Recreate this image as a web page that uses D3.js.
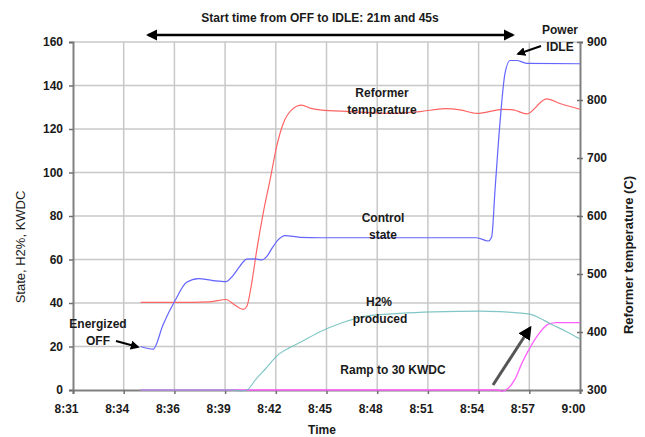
<!DOCTYPE html>
<html><head><meta charset="utf-8">
<script src="https://cdn.jsdelivr.net/npm/d3@7"></script>
<style>
body{margin:0;background:#fff;}
text{font-family:"Liberation Sans",Arial,sans-serif;}
</style></head>
<body><svg id="c" width="645" height="437"></svg>
<script>
// Tick labels (category axis, evenly spaced)
const timeLabels = ["8:31","8:34","8:36","8:39","8:42","8:45","8:48","8:51","8:54","8:57","9:00"];
const leftTicks = [0,20,40,60,80,100,120,140,160];
const rightTicks = [300,400,500,600,700,800,900];
// series: [minutes after 8:31, value]
const controlState = [[3.87,20],[4.59,18.8],[5.15,30],[5.83,41],[6.5,49.5],[7.17,51.2],[8.01,50.3],[8.75,49.8],[9.15,52.6],[9.55,57],[9.94,60.2],[10.41,60.3],[10.79,59.8],[11.08,61.3],[11.37,65],[11.73,69],[12.13,71],[12.98,70.2],[14.13,70],[17,70],[20,70],[23.09,70],[23.75,68.5],[23.95,70.5],[24.14,92],[24.42,122.6],[24.71,145.6],[25.0,151.5],[25.38,151.5],[25.95,150.2],[29,150]];
const reformerTemp = [[3.87,451],[5.83,451],[7.84,452],[8.75,456],[9.27,446],[9.74,439],[9.94,444],[10.22,484],[10.51,541],[10.88,605],[11.27,662],[11.65,720],[12.03,760],[12.51,783],[13.08,791],[13.56,786],[14.13,783],[15.84,780],[18.13,777],[19.85,780],[21.28,785],[22.14,783],[23.09,777],[24.61,784],[25.19,783],[25.95,776],[27.09,802],[27.85,794],[29,784]];
const h2Produced = [[3.87,0],[9.0,0],[9.6,-0.4],[9.94,0],[10.47,5],[11.04,10],[11.65,15.6],[12.41,19.5],[12.98,21.8],[14.13,26.8],[15.27,30.6],[16.8,34],[18.7,35.2],[20.61,35.9],[23.28,36.3],[24.42,36],[26.14,34.9],[26.71,33],[27.28,30.6],[28.24,26.8],[29,23.5]];
const kwdc = [[3.87,0],[24.31,0],[24.52,-0.6],[24.9,0.8],[25.28,5],[25.66,12],[26.14,19.5],[26.71,26.5],[27.19,30.3],[27.67,31],[29,31]];

const svg = d3.select("#c");
const L=73, R=580, T=42, B=390;
const x = d3.scaleLinear().domain([0,29]).range([L,R]);
const yL = d3.scaleLinear().domain([0,160]).range([B,T]);
const yR = d3.scaleLinear().domain([300,900]).range([B,T]);
const tickPos = timeLabels.map((d,i)=>i*2.9);

const defs = svg.append("defs");
defs.append("marker").attr("id","ah").attr("viewBox","0 0 10 10").attr("refX",8).attr("refY",5)
  .attr("markerWidth",4.5).attr("markerHeight",4.5).attr("orient","auto-start-reverse")
  .append("path").attr("d","M0,0L10,5L0,10z").attr("fill","#000");

// gridlines
const g = svg.append("g");
g.selectAll(".hg").data(leftTicks.slice(1)).join("line")
  .attr("x1",L).attr("x2",R).attr("y1",d=>yL(d)).attr("y2",d=>yL(d))
  .attr("stroke","#c8c8c8").attr("stroke-width",1.5);
g.selectAll(".vg").data(tickPos.slice(1,-1)).join("line")
  .attr("x1",d=>x(d)).attr("x2",d=>x(d)).attr("y1",T).attr("y2",B)
  .attr("stroke","#c8c8c8").attr("stroke-width",1.5);

// axes
const axL = svg.append("g").attr("transform",`translate(${L},0)`)
  .call(d3.axisLeft(yL).tickValues(leftTicks).tickSize(4).tickPadding(6));
const axR = svg.append("g").attr("transform",`translate(${R},0)`)
  .call(d3.axisRight(yR).tickValues(rightTicks).tickSize(3).tickPadding(4));
axR.selectAll(".tick line").attr("x1",-3);
const axB = svg.append("g").attr("transform",`translate(0,${B})`)
  .call(d3.axisBottom(x).tickValues(tickPos).tickFormat((d,i)=>timeLabels[i]).tickSize(4).tickPadding(10));
axB.selectAll(".tick text").attr("dx",-7);
[axL,axR,axB].forEach(a=>{
  a.select(".domain").attr("stroke","#808080").attr("stroke-width",2);
  a.selectAll(".tick line").attr("stroke","#707070").attr("stroke-width",1.5);
  a.selectAll(".tick text").attr("font-size",12).attr("font-weight","bold").attr("fill","#1a1a1a")
   .attr("font-family","Liberation Sans, Arial, sans-serif");
});

// lines
const lineL = d3.line().x(d=>x(d[0])).y(d=>yL(d[1])).curve(d3.curveMonotoneX);
const lineR = d3.line().x(d=>x(d[0])).y(d=>yR(d[1])).curve(d3.curveMonotoneX);
svg.append("path").datum(reformerTemp).attr("d",lineR).attr("fill","none").attr("stroke","#ff6464").attr("stroke-width",1.2);
svg.append("path").datum(controlState).attr("d",lineL).attr("fill","none").attr("stroke","#6464ff").attr("stroke-width",1.2);
svg.append("path").datum(kwdc).attr("d",lineL).attr("fill","none").attr("stroke","#ff60ff").attr("stroke-width",1.3);
svg.append("path").datum(h2Produced).attr("d",lineL).attr("fill","none").attr("stroke","#6cbcbc").attr("stroke-width",1.2).attr("opacity",0.85);

// text helpers
function txt(xp,yp,s,opt={}){
  return svg.append("text").attr("x",xp).attr("y",yp).attr("text-anchor",opt.anchor||"middle")
   .attr("font-size",opt.size||12).attr("font-weight",opt.weight||"bold").attr("fill","#1a1a1a").text(s);
}
txt(320,22,"Start time from OFF to IDLE: 21m and 45s");
txt(560,34,"Power"); txt(560,51,"IDLE");
txt(382,97,"Reformer"); txt(382,114,"temperature");
txt(383,222,"Control"); txt(383,239,"state");
txt(379,306,"H2%"); txt(380,323,"produced");
txt(393,374,"Ramp to 30 KWDC");
txt(98,328,"Energized"); txt(98,345,"OFF");
txt(322,434,"Time");
svg.append("text").attr("transform","translate(25,247) rotate(-90)").attr("text-anchor","middle")
  .attr("font-size",13).attr("fill","#1a1a1a").text("State, H2%, KWDC");
svg.append("text").attr("transform","translate(633,255) rotate(-90)").attr("text-anchor","middle")
  .attr("font-size",13).attr("font-weight","bold").attr("fill","#1a1a1a").text("Reformer temperature (C)");

// arrows
function arrow(x1,y1,x2,y2,w,col,both){
  const l = svg.append("line").attr("x1",x1).attr("y1",y1).attr("x2",x2).attr("y2",y2)
    .attr("stroke",col).attr("stroke-width",w).attr("marker-end","url(#ah)");
  if(both) l.attr("marker-start","url(#ah)");
}
arrow(x(4.3),35,x(25.15),35,2.5,"#000",true);
arrow(541,46,518,54,2,"#000");
arrow(116,341,138,347,2,"#000");
arrow(493,385,530,328,3,"#555");
</script></body></html>
